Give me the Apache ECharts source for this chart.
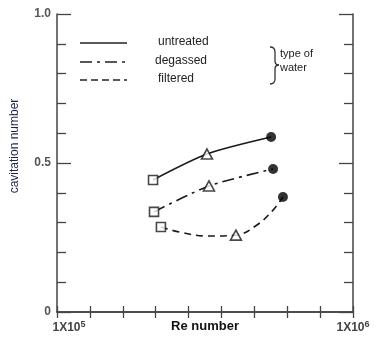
<!DOCTYPE html>
<html>
<head>
<meta charset="utf-8">
<script src="https://cdn.jsdelivr.net/npm/echarts@6/dist/echarts.min.js"></script>
<style>
    html, body {margin: 0; padding: 0; background: #fff;}
    #chart {width: 376px; height: 339px;}
</style>
</head>
<body>
<div id="chart"></div>
<script>
    // values (Re number, cavitation number)
    var untreatedRe = [3.92e5, 5.56e5, 7.51e5];
    var untreatedSigma = [0.443, 0.530, 0.587];
    var degassedRe = [3.95e5, 5.62e5, 7.57e5];
    var degassedSigma = [0.336, 0.423, 0.480];
    var filteredRe = [4.16e5, 6.44e5, 7.87e5];
    var filteredSigma = [0.285, 0.258, 0.386];
    // path of the hand drawn dashed curve for filtered water
    var filteredCurveRe = [4.16e5, 4.74e5, 5.56e5, 6.44e5, 7.08e5, 7.57e5, 7.87e5];
    var filteredCurveSigma = [0.285, 0.268, 0.255, 0.258, 0.292, 0.342, 0.386];
    var xTickLabels = {100000: '{b|1X10}{s|5}', 1000000: '{a|1X10}{s|6}'};

    function pairs(xs, ys) {
        var out = [];
        for (var i = 0; i < xs.length; i++) {
            out.push([xs[i], ys[i]]);
        }
        return out;
    }

    var ink = '#1a1a1a';
    var chart = echarts.init(document.getElementById('chart'));

    var xLabel = {
        margin: 8,
        formatter: function (v) {
            return xTickLabels[v] || '';
        },
        rich: {
            a: {fontSize: 12, fontWeight: 'bold', color: '#444', fontFamily: 'Liberation Sans'},
            // first label sits a little right of its tick in the original
            b: {fontSize: 12, fontWeight: 'bold', color: '#444', fontFamily: 'Liberation Sans', padding: [0, 0, 0, 24]},
            s: {fontSize: 9, fontWeight: 'bold', color: '#444', fontFamily: 'Liberation Sans', verticalAlign: 'top', padding: [0, 0, 6, 0]}
        }
    };
    var braceStyle = {stroke: '#333', lineWidth: 1.3, fill: 'none'};

    var option = {
        animation: false,
        grid: {left: 57, right: 23, top: 14, bottom: 27, outerBoundsMode: 'none', containLabel: false},
        xAxis: [{
            type: 'value',
            min: 100000,
            max: 1000000,
            interval: 100000,
            name: 'Re number',
            nameLocation: 'middle',
            nameGap: 8,
            nameMoveOverlap: false,
            nameTextStyle: {fontSize: 13, fontWeight: 'bold', color: '#111', fontFamily: 'Liberation Sans', verticalAlign: 'top'},
            axisLine: {lineStyle: {color: '#444', width: 1.5}},
            axisTick: {inside: true, length: 6, lineStyle: {color: '#444', width: 1.3}},
            axisLabel: xLabel,
            splitLine: {show: false}
        }, {
            type: 'value',
            position: 'top',
            min: 100000,
            max: 1000000,
            interval: 100000,
            axisLine: {lineStyle: {color: '#444', width: 1.5}},
            axisTick: {inside: true, length: 6, lineStyle: {color: '#444', width: 1.3}},
            axisLabel: {show: false},
            splitLine: {show: false}
        }],
        yAxis: [{
            type: 'value',
            min: 0,
            max: 1,
            interval: 0.5,
            name: 'cavitation number',
            nameLocation: 'middle',
            nameGap: 36,
            nameMoveOverlap: false,
            nameTextStyle: {fontSize: 12, color: '#1c2444', fontFamily: 'Liberation Sans', padding: [0, 0, 0, 34]},
            axisLine: {lineStyle: {color: '#444', width: 1.5}},
            axisTick: {inside: true, length: 14, lineStyle: {color: '#444', width: 1.3}},
            minorTick: {show: true, splitNumber: 5, length: 9, lineStyle: {color: '#444', width: 1.3}},
            axisLabel: {
                margin: 6,
                fontSize: 12,
                fontWeight: 'bold',
                color: '#555',
                fontFamily: 'Liberation Sans',
                formatter: function (v) {
                    return v === 0 ? '0' : v.toFixed(1);
                }
            },
            splitLine: {show: false}
        }, {
            type: 'value',
            position: 'right',
            min: 0,
            max: 1,
            interval: 0.5,
            axisLine: {lineStyle: {color: '#444', width: 1.5}},
            axisTick: {inside: true, length: 14, lineStyle: {color: '#444', width: 1.3}},
            minorTick: {show: true, splitNumber: 5, length: 9, lineStyle: {color: '#444', width: 1.3}},
            axisLabel: {show: false},
            splitLine: {show: false}
        }],
        series: [{
            name: 'untreated',
            type: 'line',
            smooth: 0.25,
            symbol: 'none',
            lineStyle: {color: ink, width: 1.6},
            data: pairs(untreatedRe, untreatedSigma)
        }, {
            name: 'degassed',
            type: 'line',
            smooth: 0.25,
            symbol: 'none',
            lineStyle: {color: ink, width: 1.6, type: [12, 5, 3, 5]},
            data: pairs(degassedRe, degassedSigma)
        }, {
            name: 'filtered',
            type: 'line',
            smooth: 0.4,
            symbol: 'none',
            lineStyle: {color: ink, width: 1.6, type: [7, 5]},
            data: pairs(filteredCurveRe, filteredCurveSigma)
        }, {
            type: 'scatter',
            symbol: 'rect',
            symbolSize: 9,
            z: 5,
            itemStyle: {color: '#fff', borderColor: ink, borderWidth: 1.6},
            data: [[untreatedRe[0], untreatedSigma[0]], [degassedRe[0], degassedSigma[0]], [filteredRe[0], filteredSigma[0]]]
        }, {
            type: 'scatter',
            symbol: 'triangle',
            symbolSize: [11, 10],
            z: 5,
            itemStyle: {color: '#fff', borderColor: ink, borderWidth: 1.6},
            data: [[untreatedRe[1], untreatedSigma[1]], [degassedRe[1], degassedSigma[1]], [filteredRe[1], filteredSigma[1]]]
        }, {
            type: 'scatter',
            symbol: 'circle',
            symbolSize: 10,
            z: 5,
            itemStyle: {color: '#000'},
            data: [[untreatedRe[2], untreatedSigma[2]], [degassedRe[2], degassedSigma[2]], [filteredRe[2], filteredSigma[2]]]
        }],
        graphic: [
            {type: 'line', shape: {x1: 80, y1: 43, x2: 127, y2: 43}, style: {stroke: '#222', lineWidth: 1.5}},
            {type: 'line', shape: {x1: 80, y1: 62, x2: 127, y2: 62}, style: {stroke: '#222', lineWidth: 1.5, lineDash: [12, 5, 3, 5]}},
            {type: 'line', shape: {x1: 80, y1: 80, x2: 127, y2: 80}, style: {stroke: '#222', lineWidth: 1.5, lineDash: [7, 4]}},
            {type: 'text', x: 158, y: 36, style: {text: 'untreated', font: '12px "Liberation Sans"', fill: '#222'}},
            {type: 'text', x: 155, y: 55, style: {text: 'degassed', font: '12px "Liberation Sans"', fill: '#222'}},
            {type: 'text', x: 158, y: 73, style: {text: 'filtered', font: '12px "Liberation Sans"', fill: '#222'}},
            {type: 'bezierCurve', shape: {x1: 270, y1: 47, cpx1: 275, cpy1: 47, x2: 275, y2: 52}, style: braceStyle},
            {type: 'line', shape: {x1: 275, y1: 52, x2: 275, y2: 61}, style: braceStyle},
            {type: 'bezierCurve', shape: {x1: 275, y1: 61, cpx1: 275, cpy1: 65, x2: 279, y2: 65}, style: braceStyle},
            {type: 'bezierCurve', shape: {x1: 279, y1: 65, cpx1: 275, cpy1: 65, x2: 275, y2: 69}, style: braceStyle},
            {type: 'line', shape: {x1: 275, y1: 69, x2: 275, y2: 79}, style: braceStyle},
            {type: 'bezierCurve', shape: {x1: 275, y1: 79, cpx1: 275, cpy1: 84, x2: 270, y2: 84}, style: braceStyle},
            {type: 'text', x: 280, y: 48, style: {text: 'type of', font: '11px "Liberation Sans"', fill: '#222'}},
            {type: 'text', x: 280, y: 62, style: {text: 'water', font: '11px "Liberation Sans"', fill: '#222'}}
        ]
    };
    chart.setOption(option);
</script>
</body>
</html>
